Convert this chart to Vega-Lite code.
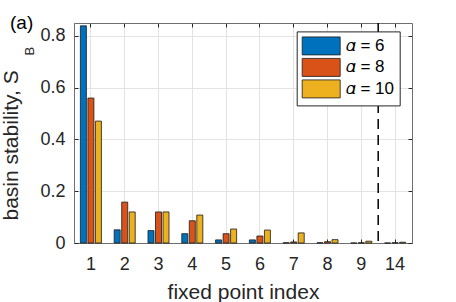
{
  "$schema": "https://vega.github.io/schema/vega-lite/v6.json",
  "width": 338,
  "height": 220,
  "autosize": "none",
  "padding": {"left": 74, "top": 23, "right": 44, "bottom": 59},
  "background": "white",
  "config": {
    "font": "Liberation Sans",
    "view": {"stroke": "#6e6e6e", "strokeWidth": 1}
  },
  "title": {"text": "(a)", "anchor": "start", "frame": "group", "orient": "top", "offset": 0, "baseline": "alphabetic", "dx": -64, "dy": 26, "fontSize": 19, "fontWeight": "normal", "color": "#000000", "font": "Liberation Sans"},
  "data": {"values": [
    {"idx": "1", "alpha": "6", "value": 0.839}, {"idx": "1", "alpha": "8", "value": 0.560}, {"idx": "1", "alpha": "10", "value": 0.471},
    {"idx": "2", "alpha": "6", "value": 0.051}, {"idx": "2", "alpha": "8", "value": 0.158}, {"idx": "2", "alpha": "10", "value": 0.120},
    {"idx": "3", "alpha": "6", "value": 0.048}, {"idx": "3", "alpha": "8", "value": 0.120}, {"idx": "3", "alpha": "10", "value": 0.120},
    {"idx": "4", "alpha": "6", "value": 0.036}, {"idx": "4", "alpha": "8", "value": 0.086}, {"idx": "4", "alpha": "10", "value": 0.108},
    {"idx": "5", "alpha": "6", "value": 0.012}, {"idx": "5", "alpha": "8", "value": 0.036}, {"idx": "5", "alpha": "10", "value": 0.054},
    {"idx": "6", "alpha": "6", "value": 0.012}, {"idx": "6", "alpha": "8", "value": 0.027}, {"idx": "6", "alpha": "10", "value": 0.050},
    {"idx": "7", "alpha": "6", "value": 0.001}, {"idx": "7", "alpha": "8", "value": 0.004}, {"idx": "7", "alpha": "10", "value": 0.039},
    {"idx": "8", "alpha": "6", "value": 0.001}, {"idx": "8", "alpha": "8", "value": 0.005}, {"idx": "8", "alpha": "10", "value": 0.013},
    {"idx": "9", "alpha": "6", "value": 0.000}, {"idx": "9", "alpha": "8", "value": 0.001}, {"idx": "9", "alpha": "10", "value": 0.007},
    {"idx": "14", "alpha": "6", "value": 0.000}, {"idx": "14", "alpha": "8", "value": 0.001}, {"idx": "14", "alpha": "10", "value": 0.003}
  ]},
  "layer": [
    {
      "mark": {"type": "bar", "stroke": "#1a1a1a", "strokeWidth": 0.8, "opacity": 1},
      "encoding": {
        "x": {"field": "idx", "type": "nominal", "sort": ["1","2","3","4","5","6","7","8","9","14"],
              "scale": {"domain": ["1","2","3","4","5","6","7","8","9","14"], "paddingInner": 0, "paddingOuter": 0},
              "axis": {"orient": "bottom", "title": "fixed point index", "labelAngle": 0, "grid": true, "gridColor": "#e3e3e3",
                       "tickSize": -4, "tickColor": "#262626", "domainColor": "#6e6e6e", "labelFontSize": 18, "labelColor": "#262626",
                       "labelPadding": 16, "titleFontSize": 21, "titleFontWeight": "normal", "titleColor": "#262626", "titlePadding": 8}},
        "xOffset": {"field": "alpha", "type": "nominal", "sort": ["6","8","10"], "scale": {"paddingInner": 0.2, "paddingOuter": 0.85}},
        "y": {"field": "value", "type": "quantitative", "scale": {"domain": [0, 0.85], "nice": false},
              "axis": {"orient": "left", "values": [0, 0.2, 0.4, 0.6, 0.8], "format": "~g", "grid": true, "gridColor": "#e3e3e3",
                       "tickSize": -4, "tickColor": "#262626", "domainColor": "#6e6e6e", "labelFontSize": 18, "labelColor": "#262626",
                       "labelPadding": 13, "title": "basin stability, S", "titleFontSize": 21, "titleFontWeight": "normal", "titleColor": "#262626",
                       "titleAngle": 270, "titleAlign": "left", "titleBaseline": "alphabetic", "titleX": -57, "titleY": 197}},
        "color": {"field": "alpha", "type": "nominal", "sort": ["6","8","10"],
                  "scale": {"domain": ["6","8","10"], "range": ["#0072BD", "#D95319", "#EDB120"]},
                  "legend": {"orient": "none", "legendX": 222.7, "legendY": 8.4, "title": null, "fillColor": "white", "strokeColor": "#262626",
                             "padding": 5, "symbolType": "M-1,-1H3.222V1H-1Z", "symbolSize": 324, "symbolStrokeColor": "#1a1a1a",
                             "symbolStrokeWidth": 0.8, "symbolOpacity": 1, "labelOffset": 25, "labelFontSize": 17, "labelColor": "#000000",
                             "labelExpr": "'𝛼 = ' + datum.label", "rowPadding": -1.5, "cornerRadius": 0}}
      }
    },
    {
      "data": {"values": [{"idx": "9"}]},
      "mark": {"type": "rule", "strokeDash": [10, 6], "strokeWidth": 1.5, "color": "#000000"},
      "encoding": {
        "x": {"field": "idx", "type": "nominal", "bandPosition": 1,
              "axis": {"orient": "top", "labels": false, "title": null, "grid": false, "domain": false, "tickSize": -4, "tickColor": "#262626", "bandPosition": 0.5}}
      }
    },
    {
      "mark": {"type": "point", "opacity": 0},
      "encoding": {
        "y": {"field": "value", "type": "quantitative",
              "axis": {"orient": "right", "values": [0, 0.2, 0.4, 0.6, 0.8], "labels": false, "title": null, "grid": false, "domain": false, "tickSize": -4, "tickColor": "#262626"}}
      }
    },
    {
      "mark": {"type": "point", "opacity": 0},
      "encoding": {
        "y": {"field": "value", "type": "quantitative",
              "axis": {"orient": "left", "labels": false, "ticks": false, "grid": false, "domain": false, "title": "B",
                       "titleFontSize": 13, "titleFontWeight": "normal", "titleColor": "#262626", "titleAngle": 270, "titleAlign": "left",
                       "titleBaseline": "alphabetic", "titleX": -41, "titleY": 32}}
      }
    }
  ],
  "resolve": {"axis": {"x": "independent", "y": "independent"}}
}
